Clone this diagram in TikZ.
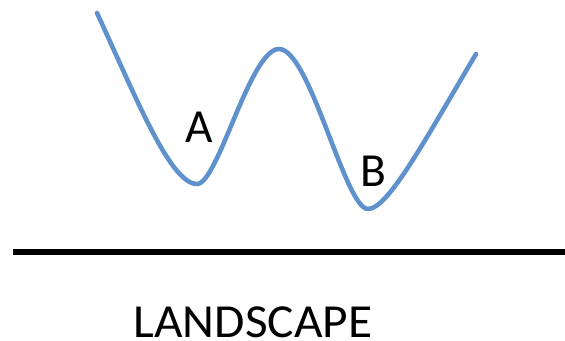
\documentclass[tikz,border=0pt]{standalone}
\usepackage{fontspec}
\setmainfont{Carlito}
\usepackage{tikz}
\usetikzlibrary{positioning}
\definecolor{curveblue}{RGB}{95,145,205}

\begin{document}
\begin{tikzpicture}[x=0.02cm,y=-0.02cm]
  \tikzset{
    energy/.style={curveblue, line width=2.6pt, line cap=round, line join=round},
    ground/.style={black, line width=2.9pt},
    tag/.style={font=\fontsize{27}{30}\selectfont, inner sep=0pt}
  }

  % picture frame
  \useasboundingbox (0,0) rectangle (565,341);

  % energy curve with two wells
  \draw[energy] (97,13) .. controls (135,95) and (170,184) .. (197,184)
                        .. controls (218,184) and (250,49) .. (279,49)
                        .. controls (310,49) and (345,209) .. (368,209)
                        .. controls (388,209) and (425,140) .. (476,54);

  % well labels
  \node[tag] (wellA) at (199,127) {A};
  \node[tag] (wellB) at (373,171) {B};

  % ground line
  \coordinate (gleft) at (13,252);
  \coordinate (gright) at (565,252);
  \draw[ground] (gleft) -- (gright);

  \node[tag, xscale=1.04] (title) at (253,322) {LANDSCAPE};
\end{tikzpicture}
\end{document}
